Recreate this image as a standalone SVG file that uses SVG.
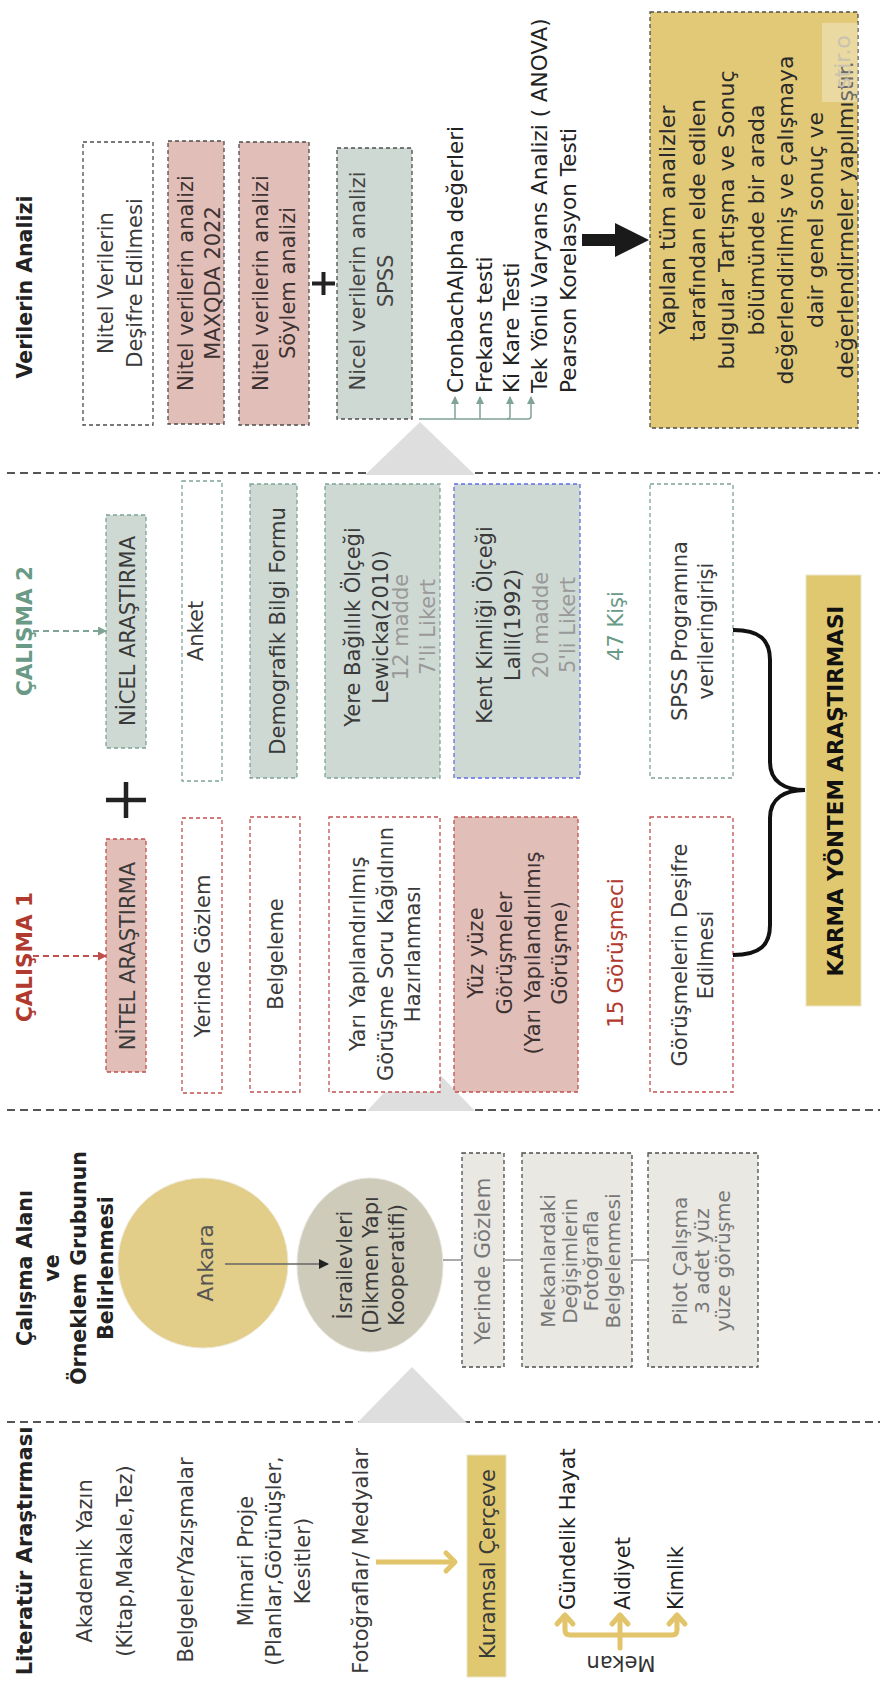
<svg xmlns="http://www.w3.org/2000/svg" width="880" height="1688" viewBox="0 0 880 1688">
<style>
.t{font-family:"DejaVu Sans","Liberation Sans",sans-serif;font-weight:400;fill:#3a3a3a;font-size:21px}
.b{font-family:"DejaVu Sans","Liberation Sans",sans-serif;font-weight:700;fill:#222;font-size:20.5px}
.dk{stroke:#4d4d4d;stroke-width:1.3;stroke-dasharray:4 3}
.gr{stroke:#7FA496;stroke-width:1.3;stroke-dasharray:4 3}
.rd{stroke:#C0504D;stroke-width:1.3;stroke-dasharray:4 3}
.bl{stroke:#5F6FE0;stroke-width:1.3;stroke-dasharray:4 3}
.div{stroke:#555;stroke-width:1.8;stroke-dasharray:8 5;fill:none}
.pink{fill:#E1BEB7}.sage{fill:#CFD9D4}.wh{fill:#fff}.lt{fill:#E9E8E3}.gold{fill:#E1C978}
.tri{fill:#DEDEDE}
</style>
<defs>
<marker id="ag" markerWidth="8" markerHeight="8" refX="7" refY="4" orient="auto" markerUnits="userSpaceOnUse"><path d="M0,0 L8,4 L0,8 Z" fill="#7FA496"/></marker>
<marker id="ar" markerWidth="9" markerHeight="9" refX="8" refY="4.5" orient="auto" markerUnits="userSpaceOnUse"><path d="M0,0 L9,4.5 L0,9 Z" fill="#C0504D"/></marker>
<marker id="ag2" markerWidth="9" markerHeight="9" refX="8" refY="4.5" orient="auto" markerUnits="userSpaceOnUse"><path d="M0,0 L9,4.5 L0,9 Z" fill="#7FA496"/></marker>
<marker id="ak" markerWidth="10" markerHeight="10" refX="9" refY="5" orient="auto" markerUnits="userSpaceOnUse"><path d="M0,0 L10,5 L0,10 Z" fill="#222"/></marker>
</defs>
<rect width="880" height="1688" fill="#fff"/>

<!-- dividers and triangles -->
<g id="dividers">
<line class="div" x1="7" y1="473" x2="880" y2="473"/>
<line class="div" x1="7" y1="1110" x2="880" y2="1110"/>
<line class="div" x1="7" y1="1422" x2="880" y2="1422"/>
<polygon class="tri" points="420,422 475,475 365,475"/>
<polygon class="tri" points="420,1054 475,1111 367,1111"/>
<polygon class="tri" points="412,1367 467,1423 357,1423"/>
</g>

<!-- ===== Verilerin Analizi ===== -->
<g id="title-analiz"><text class="b" transform="translate(32,287) rotate(-90)" text-anchor="middle">Verilerin Analizi</text></g>
<g id="n-desifre"><rect class="wh dk" x="83" y="142" width="70" height="283"/>
<text class="t" transform="translate(113,283) rotate(-90)" text-anchor="middle"><tspan x="0" y="0">Nitel Verilerin</tspan><tspan x="0" y="29">Deşifre Edilmesi</tspan></text></g>
<g id="n-maxqda"><rect class="pink dk" x="168" y="141" width="56" height="283"/>
<text class="t" transform="translate(193,283) rotate(-90)" text-anchor="middle" style="fill:#3d3232"><tspan x="0" y="0">Nitel verilerin analizi</tspan><tspan x="0" y="27">MAXQDA 2022</tspan></text></g>
<g id="n-soylem"><rect class="pink dk" x="239" y="142" width="70" height="283"/>
<text class="t" transform="translate(268,283) rotate(-90)" text-anchor="middle" style="fill:#3d3232"><tspan x="0" y="0">Nitel verilerin  analizi</tspan><tspan x="0" y="27">Söylem analizi</tspan></text></g>
<g id="plus1"><path d="M312,283.5 H335 M323.5,272 V295" stroke="#222" stroke-width="4"/></g>
<g id="n-spss"><rect class="sage dk" x="337" y="148" width="75" height="271"/>
<text class="t" transform="translate(365,281) rotate(-90)" text-anchor="middle" style="fill:#444"><tspan x="0" y="0">Nicel verilerin analizi</tspan><tspan x="0" y="28">SPSS</tspan></text></g>
<g id="n-tests">
<text class="t" transform="translate(463,393) rotate(-90)" style="font-size:21.5px;fill:#222"><tspan x="0" y="0">CronbachAlpha değerleri</tspan><tspan x="0" y="29">Frekans testi</tspan><tspan x="0" y="56">Ki Kare Testi</tspan><tspan x="0" y="84">Tek Yönlü Varyans Analizi ( ANOVA)</tspan><tspan x="0" y="113">Pearson Korelasyon Testi</tspan></text>
</g>
<g id="n-sonuc"><rect class="gold dk" x="650" y="12" width="208" height="416"/>
<text class="t" transform="translate(675,220) rotate(-90)" text-anchor="middle" style="font-size:22px;fill:#2a2a2a"><tspan x="0" y="0">Yapılan tüm analizler</tspan><tspan x="0" y="29.6">tarafından elde edilen</tspan><tspan x="0" y="59.2">bulgular Tartışma ve Sonuç</tspan><tspan x="0" y="88.8">bölümünde bir arada</tspan><tspan x="0" y="118.4">değerlendirilmiş ve çalışmaya</tspan><tspan x="0" y="148">dair genel sonuç ve</tspan><tspan x="0" y="177.6">değerlendirmeler yapılmıştır.</tspan></text>
<rect x="822" y="23" width="36" height="79" fill="#fff" opacity="0.3"/>
<text class="t" transform="translate(850,62) rotate(-90)" text-anchor="middle" style="font-size:22px;fill:#c9c2b0">stir.o</text>
</g>

<!-- ===== Çalışma 2 ===== -->
<g id="title-c2"><text class="b" transform="translate(32,631) rotate(-90)" text-anchor="middle" style="fill:#6A9A85;font-size:21.5px">ÇALIŞMA 2</text></g>
<g id="n-nicel"><rect class="sage gr" x="106" y="515" width="40" height="233"/>
<text class="t" transform="translate(135,631) rotate(-90)" text-anchor="middle">NİCEL ARAŞTIRMA</text></g>
<g id="plus2"><path d="M106,800 H146 M126,782 V818" stroke="#222" stroke-width="4.5"/></g>
<g id="n-anket"><rect class="wh gr" x="182" y="481" width="40" height="300"/>
<text class="t" transform="translate(203,631) rotate(-90)" text-anchor="middle">Anket</text></g>
<g id="n-demog"><rect class="sage gr" x="250" y="484" width="47" height="294"/>
<text class="t" transform="translate(285,631) rotate(-90)" text-anchor="middle">Demografik Bilgi Formu</text></g>
<g id="n-yere"><rect class="sage gr" x="325" y="484" width="115" height="294"/>
<text class="t" transform="translate(360,627) rotate(-90)" text-anchor="middle"><tspan x="0" y="0">Yere Bağlılık Ölçeği</tspan><tspan x="0" y="28">Lewicka(2010)</tspan><tspan x="0" y="48" style="fill:#999">12 madde</tspan><tspan x="0" y="75" style="fill:#999">7'li Likert</tspan></text></g>
<g id="n-kent"><rect class="sage bl" x="454" y="484" width="126" height="294"/>
<text class="t" transform="translate(492,625) rotate(-90)" text-anchor="middle"><tspan x="0" y="0">Kent Kimliği Ölçeği</tspan><tspan x="0" y="28">Lalli(1992)</tspan><tspan x="0" y="56" style="fill:#999">20 madde</tspan><tspan x="0" y="83" style="fill:#999">5'li Likert</tspan></text></g>
<g id="n-47"><text class="t" transform="translate(623,626) rotate(-90)" text-anchor="middle" style="fill:#6A9A85">47 Kişi</text></g>
<g id="n-spssgir"><rect class="wh gr" x="650" y="484" width="83" height="294"/>
<text class="t" transform="translate(687,631) rotate(-90)" text-anchor="middle"><tspan x="0" y="0">SPSS Programına</tspan><tspan x="0" y="26">verileringirişi</tspan></text></g>

<!-- ===== Çalışma 1 ===== -->
<g id="title-c1"><text class="b" transform="translate(32,957) rotate(-90)" text-anchor="middle" style="fill:#B03A2E;font-size:21.5px">ÇALIŞMA 1</text></g>
<g id="n-nitel"><rect class="pink rd" x="106" y="839" width="40" height="233"/>
<text class="t" transform="translate(135,956) rotate(-90)" text-anchor="middle">NİTEL ARAŞTIRMA</text></g>
<g id="n-yerinde1"><rect class="wh rd" x="182" y="818" width="40" height="275"/>
<text class="t" transform="translate(210,956) rotate(-90)" text-anchor="middle">Yerinde Gözlem</text></g>
<g id="n-belge"><rect class="wh rd" x="250" y="817" width="50" height="275"/>
<text class="t" transform="translate(283,954) rotate(-90)" text-anchor="middle">Belgeleme</text></g>
<g id="n-yari"><rect class="wh rd" x="329" y="817" width="111" height="275"/>
<text class="t" transform="translate(365,954) rotate(-90)" text-anchor="middle"><tspan x="0" y="0">Yarı Yapılandırılmış</tspan><tspan x="0" y="28">Görüşme Soru Kağıdının</tspan><tspan x="0" y="55">Hazırlanması</tspan></text></g>
<g id="n-yuz"><rect class="pink rd" x="454" y="817" width="124" height="275"/>
<text class="t" transform="translate(483,953) rotate(-90)" text-anchor="middle" style="fill:#3d3232"><tspan x="0" y="0">Yüz yüze</tspan><tspan x="0" y="29">Görüşmeler</tspan><tspan x="0" y="57">(Yarı Yapılandırılmış</tspan><tspan x="0" y="84">Görüşme)</tspan></text></g>
<g id="n-15"><text class="t" transform="translate(623,953) rotate(-90)" text-anchor="middle" style="fill:#B03A2E;font-size:21.5px">15 Görüşmeci</text></g>
<g id="n-gorusdes"><rect class="wh rd" x="650" y="817" width="83" height="275"/>
<text class="t" transform="translate(687,955) rotate(-90)" text-anchor="middle"><tspan x="0" y="0">Görüşmelerin Deşifre</tspan><tspan x="0" y="26">Edilmesi</tspan></text></g>
<g id="n-karma"><rect x="806" y="575" width="55" height="431" fill="#E0C870" stroke="#ECE6CC" stroke-width="1"/>
<text class="b" transform="translate(843,791) rotate(-90)" text-anchor="middle" style="font-size:21.5px;fill:#111">KARMA YÖNTEM ARAŞTIRMASI</text></g>

<!-- ===== Çalışma Alanı ===== -->
<g id="title-alan"><text class="b" transform="translate(32,1268) rotate(-90)" text-anchor="middle"><tspan x="0" y="0">Çalışma Alanı</tspan><tspan x="0" y="27">ve</tspan><tspan x="0" y="54">Örneklem Grubunun</tspan><tspan x="0" y="81">Belirlenmesi</tspan></text></g>
<g id="n-ankara"><circle cx="203" cy="1263" r="85" fill="#E2CE88" stroke="#EEE9D8" stroke-width="1"/>
<text class="t" transform="translate(213,1263) rotate(-90)" text-anchor="middle" style="fill:#555;font-size:22px">Ankara</text></g>
<g id="n-israil"><ellipse cx="370" cy="1265" rx="73" ry="87" fill="#CFCBBA" stroke="#E8E6DE" stroke-width="1"/>
<text class="t" transform="translate(352,1265) rotate(-90)" text-anchor="middle"><tspan x="0" y="0">İsrailevleri</tspan><tspan x="0" y="26">(Dikmen Yapı</tspan><tspan x="0" y="52">Kooperatifi)</tspan></text></g>
<g id="n-yerinde2"><rect class="lt dk" x="462" y="1153" width="42" height="214"/>
<text class="t" transform="translate(490,1261) rotate(-90)" text-anchor="middle" style="fill:#777;font-size:21.5px">Yerinde Gözlem</text></g>
<g id="n-mekanfoto"><rect class="lt dk" x="522" y="1153" width="110" height="214"/>
<text class="t" transform="translate(555,1261) rotate(-90)" text-anchor="middle" style="fill:#777;font-size:20px"><tspan x="0" y="0">Mekanlardaki</tspan><tspan x="0" y="21.5">Değişimlerin</tspan><tspan x="0" y="43">Fotoğrafla</tspan><tspan x="0" y="64.5">Belgelenmesi</tspan></text></g>
<g id="n-pilot"><rect class="lt dk" x="648" y="1153" width="110" height="214"/>
<text class="t" transform="translate(687,1261) rotate(-90)" text-anchor="middle" style="fill:#777;font-size:20px"><tspan x="0" y="0">Pilot Çalışma</tspan><tspan x="0" y="21.5">3 adet yüz</tspan><tspan x="0" y="43">yüze görüşme</tspan></text></g>

<!-- ===== Literatür ===== -->
<g id="title-lit"><text class="b" transform="translate(32,1551) rotate(-90)" text-anchor="middle" style="font-size:21px">Literatür Araştırması</text></g>
<g id="n-akademik"><text class="t" transform="translate(92,1561) rotate(-90)" text-anchor="middle"><tspan x="0" y="0">Akademik Yazın</tspan><tspan x="0" y="40">(Kitap,Makale,Tez)</tspan></text></g>
<g id="n-belgeler"><text class="t" transform="translate(193,1560) rotate(-90)" text-anchor="middle">Belgeler/Yazışmalar</text></g>
<g id="n-mimari"><text class="t" transform="translate(253,1561) rotate(-90)" text-anchor="middle"><tspan x="0" y="0">Mimari Proje</tspan><tspan x="0" y="28">(Planlar,Görünüşler,</tspan><tspan x="0" y="57">Kesitler)</tspan></text></g>
<g id="n-foto"><text class="t" transform="translate(368,1561) rotate(-90)" text-anchor="middle">Fotoğraflar/ Medyalar</text></g>
<g id="n-kuramsal"><rect x="467" y="1455" width="39" height="222" fill="#E0C870" stroke="#ECE6CC" stroke-width="1"/>
<text class="t" transform="translate(495,1564) rotate(-90)" text-anchor="middle" style="font-size:21px">Kuramsal Çerçeve</text></g>
<g id="n-gundelik"><text class="t" transform="translate(575,1610) rotate(-90)" style="fill:#222">Gündelik Hayat</text></g>
<g id="n-aidiyet"><text class="t" transform="translate(630,1610) rotate(-90)" style="fill:#222">Aidiyet</text></g>
<g id="n-kimlik"><text class="t" transform="translate(683,1610) rotate(-90)" style="fill:#222">Kimlik</text></g>
<g id="n-mekan"><text class="t" transform="translate(621,1656) rotate(180)" text-anchor="middle" style="fill:#333">Mekan</text></g>

<!-- ===== connectors ===== -->
<g id="connectors" fill="none">
<path d="M419,419 H528 Q531,419 531,416 V397" stroke="#7FA496" stroke-width="1.5" marker-end="url(#ag)"/>
<path d="M455,419 V397" stroke="#7FA496" stroke-width="1.5" marker-end="url(#ag)"/>
<path d="M480,419 V397" stroke="#7FA496" stroke-width="1.5" marker-end="url(#ag)"/>
<path d="M507,419 Q510,419 510,416 V397" stroke="#7FA496" stroke-width="1.5" marker-end="url(#ag)"/>
<polygon points="582,234 615,234 615,223 649,240 615,257 615,246 582,246" fill="#1a1a1a"/>
<line x1="33" y1="631" x2="106" y2="631" stroke="#7FA496" stroke-width="2" stroke-dasharray="6 4" marker-end="url(#ag2)"/>
<line x1="33" y1="956" x2="106" y2="956" stroke="#C0504D" stroke-width="2" stroke-dasharray="6 4" marker-end="url(#ar)"/>
<path d="M733,630 C760,630 770,640 770,660 L770,762 C770,782 785,790 805,790 C785,790 770,798 770,818 L770,925 C770,945 760,955 733,955" stroke="#111" stroke-width="4"/>
<line x1="225" y1="1264" x2="328" y2="1264" stroke="#666" stroke-width="1.3" marker-end="url(#ak)"/>
<path d="M443,1260 H462 M504,1260 H522 M632,1260 H648" stroke="#aaa" stroke-width="2"/>
<line x1="376" y1="1562" x2="452" y2="1562" stroke="#E2C46A" stroke-width="5"/>
<path d="M446,1553 L455,1562 L446,1571" stroke="#E2C46A" stroke-width="5" stroke-linecap="round" stroke-linejoin="round"/>
<path d="M620,1648 V1617 M565,1617 V1630 Q565,1635 570,1635 H672 Q677,1635 677,1630 V1617" stroke="#E2C46A" stroke-width="5" stroke-linecap="round"/>
<path d="M557,1624 L565,1615 L573,1624 M612,1624 L620,1615 L628,1624 M669,1624 L677,1615 L685,1624" stroke="#E2C46A" stroke-width="5" stroke-linecap="round" stroke-linejoin="round"/>
</g>
</svg>
